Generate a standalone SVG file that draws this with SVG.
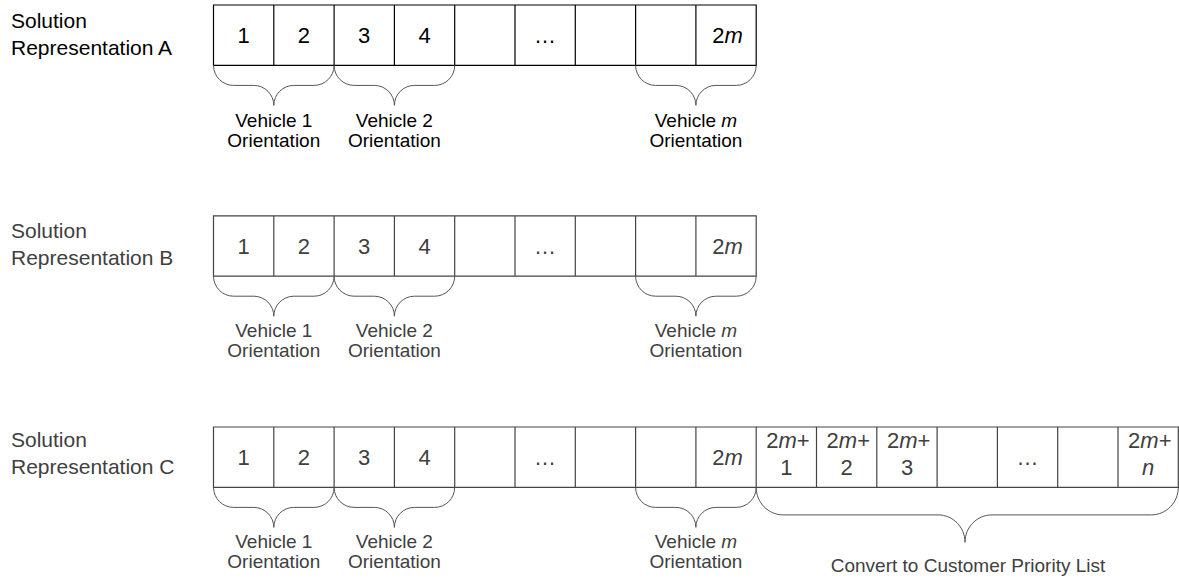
<svg xmlns="http://www.w3.org/2000/svg" width="1179" height="581" viewBox="0 0 1179 581">
<style>
text{font-family:"Liberation Sans",Arial,sans-serif}
.lbl{font-size:21px}
.num{font-size:22px;text-anchor:middle}
.cap{font-size:19px;text-anchor:middle}
.cellA{fill:#fff;stroke:#000;stroke-width:1.2}
.cellG{fill:none;stroke:#444;stroke-width:1.2}
.tA{fill:#000}
.tG{fill:#404040}
.brace{fill:none;stroke:#555;stroke-width:1}
</style>
<defs>
<path id="brS" d="M0 0 C0 11 9 20 20 20 L40.3 20 C51.3 20 60.3 29 60.3 40 C60.3 29 69.3 20 80.3 20 L100.6 20 C111.6 20 120.6 11 120.6 0"/>
<path id="cells9" d="M213.5 0 H756.2 V60.4 H213.5 Z M273.8 0 V60.4 M334.1 0 V60.4 M394.4 0 V60.4 M454.7 0 V60.4 M515 0 V60.4 M575.3 0 V60.4 M635.6 0 V60.4 M695.9 0 V60.4"/>
</defs>
<rect width="1179" height="581" fill="#fff"/>

<g id="rowA">
  <text class="lbl tA" x="11" y="28">Solution</text>
  <text class="lbl tA" x="11" y="55">Representation A</text>
  <use href="#cells9" class="cellA" transform="translate(0 5)"/>
  <text class="num tA" x="243.6" y="43">1</text>
  <text class="num tA" x="303.9" y="43">2</text>
  <text class="num tA" x="364.2" y="43">3</text>
  <text class="num tA" x="424.5" y="43">4</text>
  <text class="num tA" x="545.1" y="43">…</text>
  <text class="num tA" x="727.5" y="43">2<tspan font-style="italic">m</tspan></text>
</g>
<g id="rowB">
  <text class="lbl tG" x="11" y="238">Solution</text>
  <text class="lbl tG" x="11" y="265">Representation B</text>
  <use href="#cells9" class="cellG" transform="translate(0 215.8)"/>
  <text class="num tG" x="243.6" y="254">1</text>
  <text class="num tG" x="303.9" y="254">2</text>
  <text class="num tG" x="364.2" y="254">3</text>
  <text class="num tG" x="424.5" y="254">4</text>
  <text class="num tG" x="545.1" y="254">…</text>
  <text class="num tG" x="727.5" y="254">2<tspan font-style="italic">m</tspan></text>
</g>
<g id="rowC">
  <text class="lbl tG" x="11" y="447">Solution</text>
  <text class="lbl tG" x="11" y="474">Representation C</text>
  <use href="#cells9" class="cellG" transform="translate(0 427)"/>
  <path class="cellG" d="M756.2 427 H1179 M756.2 487.4 H1179 M816.5 427 V487.4 M876.8 427 V487.4 M937.1 427 V487.4 M997.4 427 V487.4 M1057.7 427 V487.4 M1118 427 V487.4 M1178.3 427 V487.4"/>
  <text class="num tG" x="243.6" y="465">1</text>
  <text class="num tG" x="303.9" y="465">2</text>
  <text class="num tG" x="364.2" y="465">3</text>
  <text class="num tG" x="424.5" y="465">4</text>
  <text class="num tG" x="545.1" y="465">…</text>
  <text class="num tG" x="727.5" y="465">2<tspan font-style="italic">m</tspan></text>
  <text class="num tG" x="788" y="448">2<tspan font-style="italic">m</tspan>+</text>
  <text class="num tG" x="786.4" y="475">1</text>
  <text class="num tG" x="848.3" y="448">2<tspan font-style="italic">m</tspan>+</text>
  <text class="num tG" x="846.7" y="475">2</text>
  <text class="num tG" x="908.6" y="448">2<tspan font-style="italic">m</tspan>+</text>
  <text class="num tG" x="907" y="475">3</text>
  <text class="num tG" x="1027.6" y="465">…</text>
  <text class="num tG" x="1149.8" y="448">2<tspan font-style="italic">m</tspan>+</text>
  <text class="num tG" x="1148.2" y="475" font-style="italic">n</text>
</g>

<g id="connectors">
  <use href="#brS" class="brace" transform="translate(213.5 65.4)"/>
  <use href="#brS" class="brace" transform="translate(334.1 65.4)"/>
  <use href="#brS" class="brace" transform="translate(635.6 65.4)"/>
  <use href="#brS" class="brace" transform="translate(213.5 276.2)"/>
  <use href="#brS" class="brace" transform="translate(334.1 276.2)"/>
  <use href="#brS" class="brace" transform="translate(635.6 276.2)"/>
  <use href="#brS" class="brace" transform="translate(213.5 487.4)"/>
  <use href="#brS" class="brace" transform="translate(334.1 487.4)"/>
  <use href="#brS" class="brace" transform="translate(635.6 487.4)"/>
  <path class="brace" d="M756.2 487.4 C756.2 502.5 768.3 514.9 783.2 514.9 L938 514.9 C952.9 514.9 965 527 965 542.4 C965 527 977.1 514.9 992 514.9 L1151.3 514.9 C1166.2 514.9 1178.3 502.5 1178.3 487.4"/>
</g>

<g id="labelsA">
  <text class="cap tA" x="273.8" y="127">Vehicle 1</text>
  <text class="cap tA" x="273.8" y="147">Orientation</text>
  <text class="cap tA" x="394.4" y="127">Vehicle 2</text>
  <text class="cap tA" x="394.4" y="147">Orientation</text>
  <text class="cap tA" x="695.9" y="127">Vehicle <tspan font-style="italic">m</tspan></text>
  <text class="cap tA" x="695.9" y="147">Orientation</text>
</g>
<g id="labelsB">
  <text class="cap tG" x="273.8" y="337">Vehicle 1</text>
  <text class="cap tG" x="273.8" y="357">Orientation</text>
  <text class="cap tG" x="394.4" y="337">Vehicle 2</text>
  <text class="cap tG" x="394.4" y="357">Orientation</text>
  <text class="cap tG" x="695.9" y="337">Vehicle <tspan font-style="italic">m</tspan></text>
  <text class="cap tG" x="695.9" y="357">Orientation</text>
</g>
<g id="labelsC">
  <text class="cap tG" x="273.8" y="548">Vehicle 1</text>
  <text class="cap tG" x="273.8" y="568">Orientation</text>
  <text class="cap tG" x="394.4" y="548">Vehicle 2</text>
  <text class="cap tG" x="394.4" y="568">Orientation</text>
  <text class="cap tG" x="695.9" y="548">Vehicle <tspan font-style="italic">m</tspan></text>
  <text class="cap tG" x="695.9" y="568">Orientation</text>
  <text class="cap tG" x="968" y="572">Convert to Customer Priority List</text>
</g>
</svg>
